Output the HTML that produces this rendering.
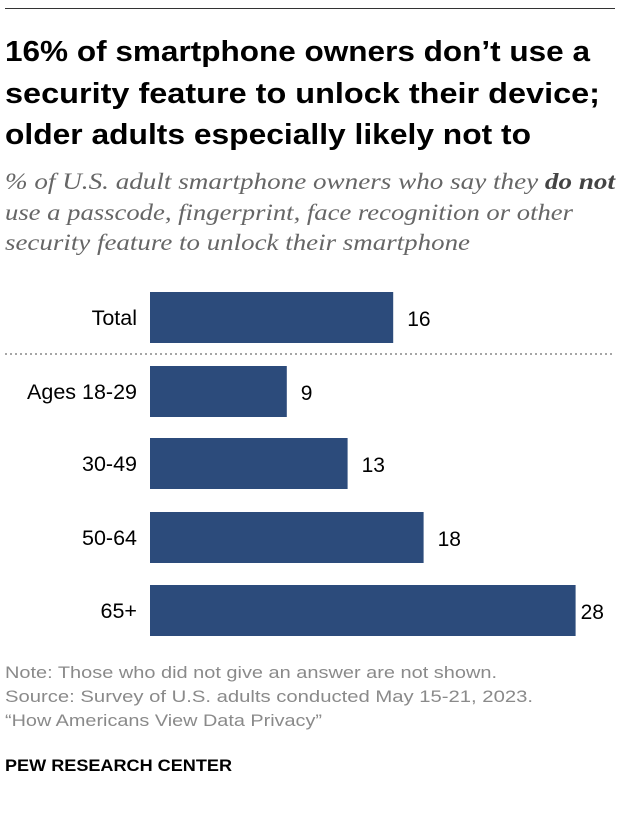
<!DOCTYPE html>
<html><head><meta charset="utf-8"><style>
body{margin:0;background:#fff;width:620px;height:820px;position:relative;font-family:"Liberation Sans",sans-serif;overflow:hidden}
</style></head><body>
<svg id="c" width="620" height="820" style="position:absolute;left:0;top:0" font-family="Liberation Sans, sans-serif">
<line x1="5" x2="615" y1="8.5" y2="8.5" stroke="#333" stroke-width="1"/>
<g font-size="28.5" font-weight="bold" fill="#000">
<text x="5" y="61" textLength="585" lengthAdjust="spacingAndGlyphs">16% of smartphone owners don’t use a</text>
<text x="5" y="103" textLength="595" lengthAdjust="spacingAndGlyphs">security feature to unlock their device;</text>
<text x="5" y="144" textLength="526" lengthAdjust="spacingAndGlyphs">older adults especially likely not to</text>
</g>
<g font-size="23" font-style="italic" fill="#666" font-family="Liberation Serif, serif">
<text x="5" y="189" textLength="610" lengthAdjust="spacingAndGlyphs">% of U.S. adult smartphone owners who say they <tspan font-weight="bold" fill="#444">do not</tspan></text>
<text x="5" y="220" textLength="568" lengthAdjust="spacingAndGlyphs">use a passcode, fingerprint, face recognition or other</text>
<text x="5" y="250" textLength="465" lengthAdjust="spacingAndGlyphs">security feature to unlock their smartphone</text>
</g>
<line x1="5" x2="615" y1="354" y2="354" stroke="#888" stroke-width="1.5" stroke-dasharray="2,3"/>
<g font-size="17" fill="#8a8a8a">
<text x="5" y="678" textLength="492" lengthAdjust="spacingAndGlyphs">Note: Those who did not give an answer are not shown.</text>
<text x="5" y="702" textLength="528" lengthAdjust="spacingAndGlyphs">Source: Survey of U.S. adults conducted May 15-21, 2023.</text>
<text x="5" y="726" textLength="317" lengthAdjust="spacingAndGlyphs">“How Americans View Data Privacy”</text>
</g>
<text x="5" y="771" font-size="17" font-weight="bold" textLength="227" lengthAdjust="spacingAndGlyphs">PEW RESEARCH CENTER</text>
</svg>
<script>
const categories=["Total","Ages 18-29","30-49","50-64","65+"];
const values=[16,9,13,18,28];
const svg=document.getElementById('c');
const NS='http://www.w3.org/2000/svg';
const x0=150,scale=15.2;
const tops=[292,366,438,512,585];
function xs(v){return x0+v*scale;}
categories.forEach((c,i)=>{
  const r=document.createElementNS(NS,'rect');
  r.setAttribute('x',x0);r.setAttribute('y',tops[i]);r.setAttribute('width',xs(values[i])-x0);r.setAttribute('height',51);r.setAttribute('fill','#2c4b7b');
  
  
  svg.appendChild(r);
  const l=document.createElementNS(NS,'text');
  l.setAttribute('x',137);l.setAttribute('y',tops[i]+33);l.setAttribute('text-anchor','end');l.setAttribute('font-size','21.5');l.textContent=c;
  
  
  svg.appendChild(l);
  const v=document.createElementNS(NS,'text');
  v.setAttribute('x',xs(values[i])+(i==4?5:14));v.setAttribute('y',tops[i]+34);v.setAttribute('font-size','21');v.textContent=values[i];
  
  
  svg.appendChild(v);
});
</script>
</body></html>
